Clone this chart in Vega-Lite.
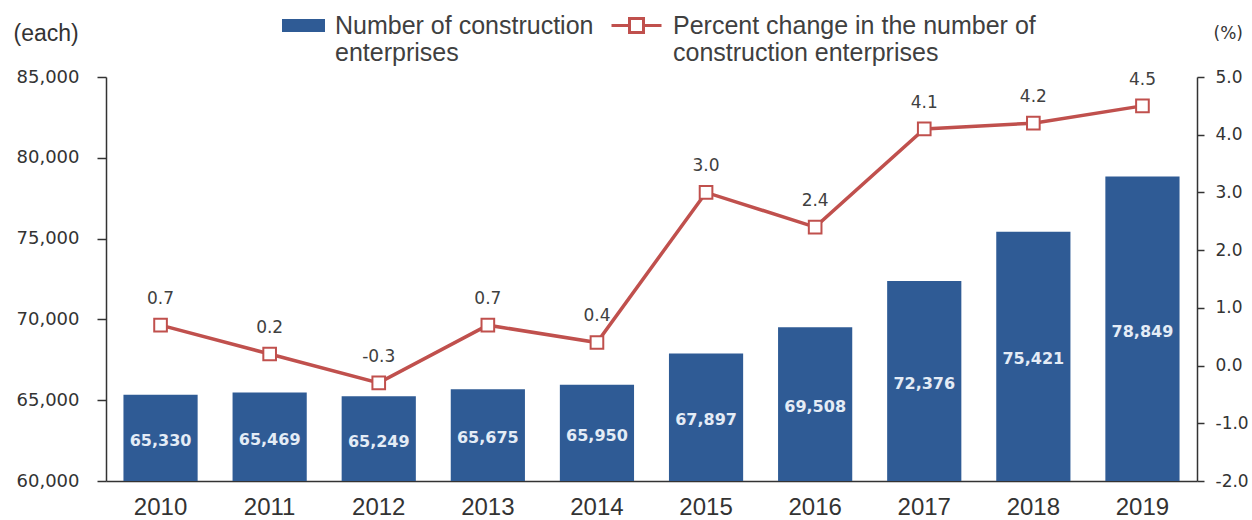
{
  "$schema": "https://vega.github.io/schema/vega-lite/v6.json",
  "width": 1091,
  "height": 404,
  "autosize": {"type": "none"},
  "padding": {"left": 106, "top": 77, "right": 55, "bottom": 39},
  "background": "white",
  "config": {
    "view": {"stroke": null},
    "axis": {"grid": false, "domainColor": "#333333", "domainWidth": 1.5, "tickColor": "#333333", "tickWidth": 1.5, "labelColor": "#333333", "titleColor": "#333333"}
  },
  "data": {
    "values": [
      {"year": "2010", "count": 65330, "pct": 0.7},
      {"year": "2011", "count": 65469, "pct": 0.2},
      {"year": "2012", "count": 65249, "pct": -0.3},
      {"year": "2013", "count": 65675, "pct": 0.7},
      {"year": "2014", "count": 65950, "pct": 0.4},
      {"year": "2015", "count": 67897, "pct": 3.0},
      {"year": "2016", "count": 69508, "pct": 2.4},
      {"year": "2017", "count": 72376, "pct": 4.1},
      {"year": "2018", "count": 75421, "pct": 4.2},
      {"year": "2019", "count": 78849, "pct": 4.5}
    ]
  },
  "encoding": {
    "x": {
      "field": "year", "type": "ordinal",
      "scale": {"paddingInner": 0.32, "paddingOuter": 0.16},
      "axis": {"title": null, "labelAngle": 0, "ticks": false, "tickSize": 0, "labelPadding": 14, "labelFont": "Liberation Sans", "labelFontSize": 24, "labelColor": "#333333", "domainColor": "#333333", "domainWidth": 1.5}
    }
  },
  "layer": [
    {
      "layer": [
        {
          "mark": {"type": "bar", "color": "#2f5b95"},
          "encoding": {
            "y": {
              "field": "count", "type": "quantitative",
              "scale": {"domain": [60000, 85000], "zero": false, "nice": false},
              "axis": {"title": "(each)", "titleAngle": 0, "titleX": -93, "titleY": -44, "titleAlign": "left", "titleBaseline": "middle", "titleFont": "Liberation Sans", "titleFontSize": 23, "titleFontWeight": "normal", "values": [60000, 65000, 70000, 75000, 80000, 85000], "format": ",.0f", "labelFont": "DejaVu Sans", "labelFontSize": 18, "tickSize": 9, "labelPadding": 18}
            },
            "y2": {"datum": 60000},
            "fill": {
              "datum": "Number of construction|enterprises",
              "scale": {"range": ["#2f5b95"]},
              "legend": {
                "title": null, "orient": "none", "legendX": 176, "legendY": -73, "padding": 0,
                "symbolType": "M-1,-0.3H1V0.3H-1Z", "symbolSize": 1849, "symbolStrokeWidth": 0,
                "labelExpr": "split(datum.label, '|')", "labelFont": "Liberation Sans", "labelFontSize": 25, "labelColor": "#404040", "labelOffset": 10, "labelLimit": 600, "labelBaseline": "middle", "labelLineHeight": 25
              }
            }
          }
        },
        {
          "transform": [{"calculate": "(datum.count + 60000) / 2", "as": "mid"}],
          "mark": {"type": "text", "font": "DejaVu Sans", "fontSize": 16, "fontWeight": "bold", "color": "#e4ecf6", "baseline": "middle", "dy": 3},
          "encoding": {
            "y": {"field": "mid", "type": "quantitative", "title": "(each)"},
            "text": {"field": "count", "type": "quantitative", "format": ","}
          }
        }
      ]
    },
    {
      "layer": [
        {
          "mark": {"type": "line", "color": "#c0504d", "strokeWidth": 3.5, "point": {"filled": false, "fill": "white", "shape": "square", "size": 160, "strokeWidth": 2}},
          "encoding": {
            "y": {
              "field": "pct", "type": "quantitative",
              "scale": {"domain": [-2, 5], "zero": false, "nice": false},
              "axis": {"orient": "right", "title": "(%)", "titleAngle": 0, "titleX": 16, "titleY": -44, "titleAlign": "left", "titleBaseline": "middle", "titleFont": "DejaVu Sans", "titleFontSize": 17, "titleFontWeight": "normal", "values": [-2, -1, 0, 1, 2, 3, 4, 5], "format": ".1f", "labelExpr": "replace(datum.label, '\u2212', '-')", "labelFont": "DejaVu Sans", "labelFontSize": 17, "tickSize": 7, "labelPadding": 11}
            },
            "stroke": {
              "datum": "Percent change in the number of|construction enterprises",
              "scale": {"range": ["#c0504d"]},
              "legend": {
                "title": null, "orient": "none", "legendX": 504, "legendY": -78, "padding": 0,
                "symbolType": "M-1,0H-0.28M0.28,0H1M-0.28,-0.28H0.28V0.28H-0.28Z", "symbolSize": 2500, "symbolStrokeWidth": 3, "symbolFillColor": "white",
                "labelExpr": "split(datum.label, '|')", "labelFont": "Liberation Sans", "labelFontSize": 25, "labelColor": "#404040", "labelOffset": 10, "labelLimit": 600, "labelBaseline": "middle", "labelLineHeight": 25
              }
            }
          }
        },
        {
          "transform": [{"calculate": "replace(format(datum.pct, '.1f'), '\u2212', '-')", "as": "pctLabel"}],
          "mark": {"type": "text", "font": "DejaVu Sans", "fontSize": 17, "color": "#404040", "baseline": "middle", "dy": -26},
          "encoding": {
            "y": {"field": "pct", "type": "quantitative", "title": "(%)"},
            "text": {"field": "pctLabel", "type": "nominal"}
          }
        }
      ]
    }
  ],
  "resolve": {"scale": {"y": "independent"}}
}
